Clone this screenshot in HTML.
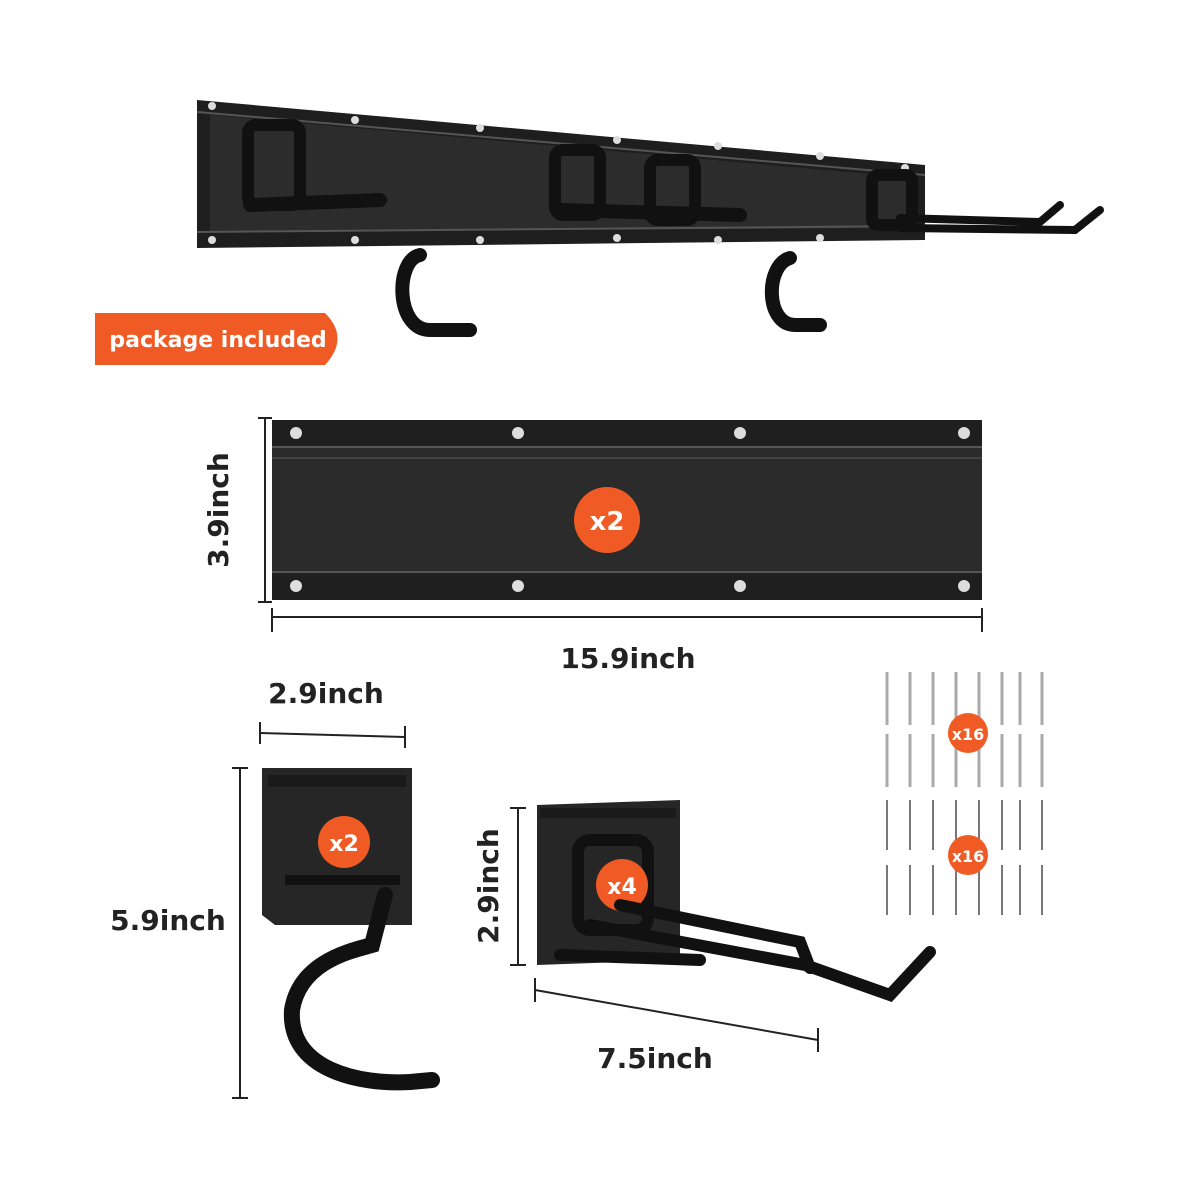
<!DOCTYPE html>
<html><head><meta charset="utf-8"><style>
html,body{margin:0;padding:0;background:#fff;}
svg{display:block}
text{font-family:"DejaVu Sans","Liberation Sans",sans-serif;font-weight:bold;}
</style></head><body>
<svg width="1200" height="1200" viewBox="0 0 1200 1200" xmlns="http://www.w3.org/2000/svg">
<rect width="1200" height="1200" fill="#fff"/>
<!-- top assembled rack -->
<polygon points="197,100 925,165 925,240 197,248" fill="#1e1e1e"/>
<polygon points="210,115 915,178 915,228 210,232" fill="#2c2c2c"/>
<line x1="197" y1="112" x2="925" y2="175" stroke="#555" stroke-width="2"/>
<line x1="197" y1="232" x2="925" y2="226" stroke="#555" stroke-width="2"/>
<g fill="#ddd">
<circle cx="212" cy="106" r="4"/><circle cx="355" cy="120" r="4"/><circle cx="480" cy="128" r="4"/><circle cx="617" cy="140" r="4"/><circle cx="718" cy="146" r="4"/><circle cx="820" cy="156" r="4"/><circle cx="905" cy="168" r="4"/>
<circle cx="212" cy="240" r="4"/><circle cx="355" cy="240" r="4"/><circle cx="480" cy="240" r="4"/><circle cx="617" cy="238" r="4"/><circle cx="718" cy="240" r="4"/><circle cx="820" cy="238" r="4"/>
</g>
<g fill="none" stroke="#111" stroke-width="12">
<rect x="248" y="125" width="52" height="80" rx="8"/><rect x="555" y="150" width="45" height="65" rx="8"/><rect x="650" y="160" width="45" height="60" rx="8"/><rect x="872" y="175" width="40" height="50" rx="6"/>
</g>
<g stroke="#111" stroke-width="14" fill="none" stroke-linecap="round">
<path d="M250 205 L380 200"/><path d="M560 210 L740 215"/>
<path d="M420 255 C395 260 395 330 430 330 L470 330"/>
<path d="M790 258 C765 265 765 325 795 325 L820 325"/>
</g>
<g stroke="#111" stroke-width="8" fill="none" stroke-linecap="round">
<path d="M900 218 L1040 222 L1060 205"/><path d="M900 228 L1075 230 L1100 210"/>
</g>
<!-- orange pill -->
<path d="M95 313 L325 313 Q350 338 325 365 L95 365 Z" fill="#f05a24"/>
<text x="218" y="347" font-size="22" fill="#fff" text-anchor="middle">package included</text>
<!-- rail -->
<rect x="272" y="420" width="710" height="180" fill="#2b2b2b"/>
<rect x="272" y="420" width="710" height="26" fill="#1f1f1f"/>
<rect x="272" y="572" width="710" height="28" fill="#1f1f1f"/>
<line x1="272" y1="447" x2="982" y2="447" stroke="#555" stroke-width="2"/>
<line x1="272" y1="458" x2="982" y2="458" stroke="#444" stroke-width="2"/>
<line x1="272" y1="572" x2="982" y2="572" stroke="#555" stroke-width="2"/>
<g fill="#ddd"><circle cx="296" cy="433" r="6"/><circle cx="518" cy="433" r="6"/><circle cx="740" cy="433" r="6"/><circle cx="964" cy="433" r="6"/>
<circle cx="296" cy="586" r="6"/><circle cx="518" cy="586" r="6"/><circle cx="740" cy="586" r="6"/><circle cx="964" cy="586" r="6"/></g>
<circle cx="607" cy="520" r="33" fill="#f05a24"/>
<text x="607" y="530" font-size="26" fill="#fff" text-anchor="middle">x2</text>
<!-- dims -->
<g stroke="#222" stroke-width="2">
<line x1="265" y1="418" x2="265" y2="602"/><line x1="258" y1="418" x2="272" y2="418"/><line x1="258" y1="602" x2="272" y2="602"/>
<line x1="272" y1="617" x2="982" y2="617"/><line x1="272" y1="608" x2="272" y2="632"/><line x1="982" y1="608" x2="982" y2="632"/>
<line x1="260" y1="733" x2="405" y2="737"/><line x1="260" y1="722" x2="260" y2="744"/><line x1="405" y1="726" x2="405" y2="748"/>
<line x1="240" y1="768" x2="240" y2="1098"/><line x1="232" y1="768" x2="248" y2="768"/><line x1="232" y1="1098" x2="248" y2="1098"/>
<line x1="518" y1="808" x2="518" y2="965"/><line x1="510" y1="808" x2="526" y2="808"/><line x1="510" y1="965" x2="526" y2="965"/>
<line x1="535" y1="990" x2="818" y2="1040"/><line x1="535" y1="978" x2="535" y2="1002"/><line x1="818" y1="1028" x2="818" y2="1052"/>
</g>
<text x="228" y="510" font-size="28" fill="#222" text-anchor="middle" transform="rotate(-90 228 510)">3.9inch</text>
<text x="628" y="668" font-size="28" fill="#222" text-anchor="middle">15.9inch</text>
<text x="326" y="703" font-size="28" fill="#222" text-anchor="middle">2.9inch</text>
<text x="168" y="930" font-size="28" fill="#222" text-anchor="middle">5.9inch</text>
<text x="498" y="886" font-size="28" fill="#222" text-anchor="middle" transform="rotate(-90 498 886)">2.9inch</text>
<text x="655" y="1068" font-size="28" fill="#222" text-anchor="middle">7.5inch</text>
<!-- small bracket -->
<polygon points="262,768 412,768 412,925 275,925 262,915" fill="#262626"/>
<rect x="268" y="775" width="138" height="12" fill="#1a1a1a"/>
<path d="M285 880 L400 880" stroke="#111" stroke-width="10"/>
<circle cx="344" cy="842" r="26" fill="#f05a24"/>
<text x="344" y="851" font-size="22" fill="#fff" text-anchor="middle">x2</text>
<path d="M385 895 L372 945 C355 950 300 960 292 1010 C288 1070 360 1085 410 1082 L432 1080" stroke="#111" stroke-width="16" fill="none" stroke-linecap="round"/>
<!-- hook bracket -->
<polygon points="537,805 680,800 680,960 537,965" fill="#262626"/>
<rect x="540" y="808" width="136" height="10" fill="#1a1a1a"/>
<rect x="578" y="840" width="70" height="90" rx="12" fill="none" stroke="#111" stroke-width="12"/>
<circle cx="622" cy="885" r="26" fill="#f05a24"/>
<text x="622" y="894" font-size="22" fill="#fff" text-anchor="middle">x4</text>
<g stroke="#111" stroke-width="12" fill="none" stroke-linecap="round">
<path d="M590 925 L805 965 L890 995 L930 952"/>
<path d="M620 905 L800 942 L810 968"/>
<path d="M560 955 L700 960"/>
</g>
<!-- screws -->
<g stroke="#aaa" stroke-width="3">
<g id="row1">
<line x1="887" y1="672" x2="887" y2="725"/><line x1="910" y1="672" x2="910" y2="725"/><line x1="933" y1="672" x2="933" y2="725"/><line x1="956" y1="672" x2="956" y2="725"/><line x1="979" y1="672" x2="979" y2="725"/><line x1="1002" y1="672" x2="1002" y2="725"/><line x1="1020" y1="672" x2="1020" y2="725"/><line x1="1042" y1="672" x2="1042" y2="725"/>
</g>
<use href="#row1" y="62"/>
</g>
<g stroke="#777" stroke-width="2">
<g id="row3">
<line x1="887" y1="800" x2="887" y2="850"/><line x1="910" y1="800" x2="910" y2="850"/><line x1="933" y1="800" x2="933" y2="850"/><line x1="956" y1="800" x2="956" y2="850"/><line x1="979" y1="800" x2="979" y2="850"/><line x1="1002" y1="800" x2="1002" y2="850"/><line x1="1020" y1="800" x2="1020" y2="850"/><line x1="1042" y1="800" x2="1042" y2="850"/>
</g>
<use href="#row3" y="65"/>
</g>
<circle cx="968" cy="733" r="20" fill="#f05a24"/>
<text x="968" y="740" font-size="16" fill="#fff" text-anchor="middle">x16</text>
<circle cx="968" cy="855" r="20" fill="#f05a24"/>
<text x="968" y="862" font-size="16" fill="#fff" text-anchor="middle">x16</text>
</svg>
</body></html>
